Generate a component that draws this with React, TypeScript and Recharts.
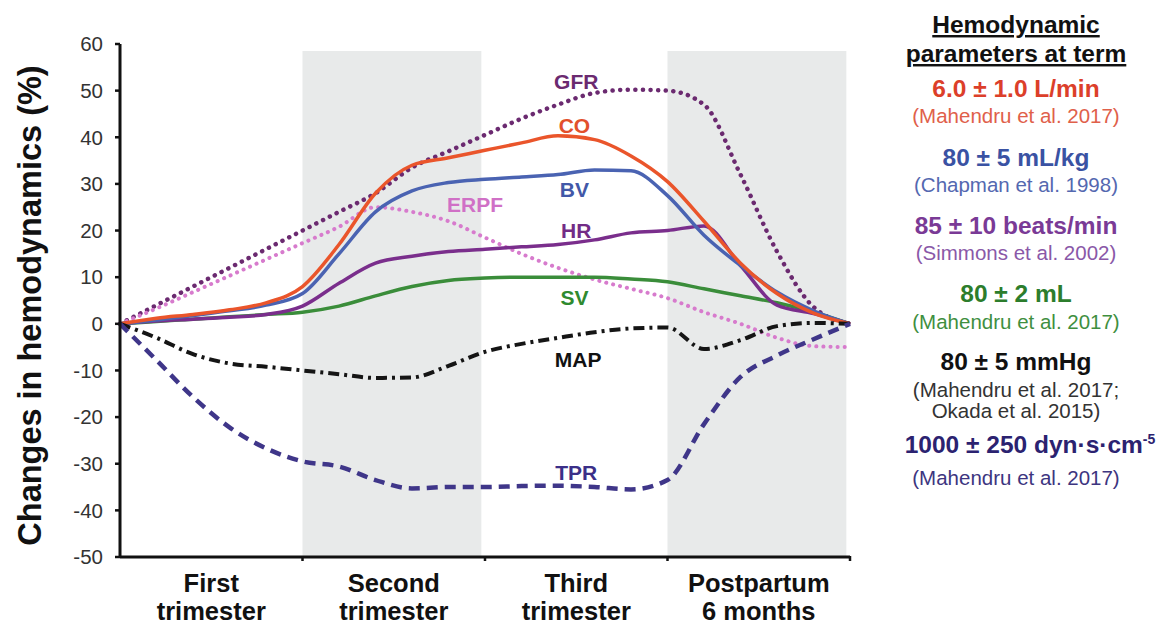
import React from "react";
import {
  LineChart,
  Line,
  XAxis,
  YAxis,
  ReferenceArea,
  ReferenceDot,
} from "recharts";

// time axis: 0 = conception, each unit = one trimester (last = postpartum 6 months)
const stages = [0, 0.2, 0.4, 0.6, 0.8, 1, 1.2, 1.4, 1.6, 1.8, 2, 2.2, 2.4, 2.6, 2.8, 3, 3.2, 3.4, 3.6, 3.8, 4];

const co = [0, 1.2, 2, 3, 4.5, 8, 17, 28, 34, 35.6, 37.2, 38.8, 40.3, 39.5, 36, 30.5, 22, 13, 6.5, 2.3, 0];
const bv = [0, 0.8, 1.8, 2.8, 4, 6.5, 15, 24, 28.5, 30.3, 31, 31.5, 32, 33, 32.8, 27.5, 19, 12.5, 6.8, 2.8, 0];
const hr = [0, 0.6, 1, 1.4, 2, 3.8, 8.7, 13, 14.5, 15.5, 16, 16.5, 17, 18, 19.5, 20, 21, 12.5, 4, 2.2, 0];
const sv = [0, 0.5, 1, 1.5, 2, 2.5, 3.8, 6, 8, 9.3, 9.8, 10, 10, 10, 9.6, 9, 7.5, 6, 4.5, 2.5, 0];
const gfr = [0, 4, 8, 12, 16, 20, 24, 28, 33.5, 37, 40.5, 44, 47, 49.5, 50.2, 50, 47, 32, 15.5, 3.6, 0];
const erpf = [0, 3.3, 6.8, 10.3, 13.8, 17.3, 20.8, 25, 24, 22, 18.5, 15, 12, 9.5, 7.5, 5.5, 2.5, 0, -3, -4.8, -5];
const map = [0, -3, -6.5, -8.5, -9.2, -10, -10.8, -11.6, -11.5, -9, -6, -4.3, -3, -1.8, -1, -0.8, -5.4, -3.5, -0.5, 0.2, 0];
const tpr = [0, -7.8, -15.7, -22.2, -26.7, -29.5, -30.6, -33.5, -35.3, -35, -35, -34.8, -34.7, -35, -35.5, -33.5, -21.5, -11.4, -6.8, -3.3, 0];

const stageNames = [
  ["First", "trimester"],
  ["Second", "trimester"],
  ["Third", "trimester"],
  ["Postpartum", "6 months"],
];
const shadedStages = [1, 3];
const yTicks = [-50, -40, -30, -20, -10, 0, 10, 20, 30, 40, 50, 60];

// in-plot series labels: [name, x, y, colour]
const seriesLabels: [string, number, number, string][] = [
  ["GFR", 2.5, 52, "#6b2a70"],
  ["CO", 2.49, 42.6, "#e2502c"],
  ["BV", 2.49, 28.9, "#4258a8"],
  ["ERPF", 1.945, 25.5, "#d070c6"],
  ["HR", 2.5, 20.1, "#732c86"],
  ["SV", 2.49, 5.7, "#2f8a2f"],
  ["MAP", 2.51, -7.7, "#111111"],
  ["TPR", 2.5, -31.8, "#3b2f88"],
];

// panel on the right: value line, citation lines, colours
const termValues = [
  "6.0 ± 1.0 L/min",
  "80 ± 5 mL/kg",
  "85 ± 10 beats/min",
  "80 ± 2 mL",
  "80 ± 5 mmHg",
  "1000 ± 250 dyn·s·cm",
];
const termRefs = [
  ["(Mahendru et al. 2017)"],
  ["(Chapman et al. 1998)"],
  ["(Simmons et al. 2002)"],
  ["(Mahendru et al. 2017)"],
  ["(Mahendru et al. 2017;", "Okada et al. 2015)"],
  ["(Mahendru et al. 2017)"],
];
const termColors = ["#dc3f2a", "#3a52a3", "#7a3a96", "#2c7d2c", "#111111", "#2b2270"];
const refColors = ["#e0604a", "#5468b0", "#8a58a8", "#3f8f3f", "#333333", "#3d3580"];
const valueBaselines = [97, 166, 234, 302, 370, 453];
const refBaselines = [[123], [192], [260], [329], [397, 418], [485]];

const data = stages.map((s, i) => ({
  s,
  co: co[i],
  bv: bv[i],
  hr: hr[i],
  sv: sv[i],
  gfr: gfr[i],
  erpf: erpf[i],
  map: map[i],
  tpr: tpr[i],
}));

const FONT = "Arial, 'Liberation Sans', Helvetica, sans-serif";

const StageTick = (props: any) => {
  const { x, y, payload } = props;
  const v = payload.value as number;
  if (Number.isInteger(v)) {
    if (v === 0) return null;
    return <line x1={x} x2={x} y1={y - 9} y2={y - 4} stroke="#111" strokeWidth={2.5} />;
  }
  const lines = stageNames[Math.floor(v)];
  return (
    <text x={x} y={y} textAnchor="middle" fontFamily={FONT} fontWeight="bold" fontSize={25.5} fill="#111">
      <tspan x={x} dy={27}>{lines[0]}</tspan>
      <tspan x={x} dy={28}>{lines[1]}</tspan>
    </text>
  );
};

const YTitle = (props: any) => {
  const vb = props.viewBox || { x: 0, y: 44, height: 513 };
  const cx = vb.x + 30;
  const cy = vb.y + vb.height / 2 + 5;
  return (
    <text
      x={cx}
      y={cy}
      transform={`rotate(-90 ${cx} ${cy})`}
      textAnchor="middle"
      dominantBaseline="central"
      fontFamily={FONT}
      fontWeight="bold"
      fontSize={32.5}
      fill="#111"
    >
      Changes in hemodynamics (%)
    </text>
  );
};

export default function App() {
  const panel: React.ReactNode[] = [];
  termValues.forEach((t, i) => {
    panel.push(
      <text key={`v${i}`} x={i === 5 ? 170 : 156} y={valueBaselines[i]} textAnchor="middle" fontFamily={FONT}
        fontWeight="bold" fontSize={24.5} fill={termColors[i]}>
        {t}
        {i === 5 && <tspan dy={-9} fontSize={14}>-5</tspan>}
      </text>
    );
    termRefs[i].forEach((r, j) => {
      panel.push(
        <text key={`r${i}-${j}`} x={156} y={refBaselines[i][j]} textAnchor="middle" fontFamily={FONT}
          fontSize={20.5} fill={refColors[i]}>
          {r}
        </text>
      );
    });
  });

  return (
    <div style={{ position: "absolute", left: 0, top: 0, width: 1170, height: 626, background: "#fff" }}>
      <LineChart
        width={1170}
        height={626}
        data={data}
        margin={{ top: 44, right: 320, bottom: 0, left: 0 }}
      >
        {shadedStages.map((s) => (
          <ReferenceArea key={s} x1={s} x2={s + 0.98} y1={-50} y2={58.5} fill="#e8eaea" fillOpacity={1} stroke="none" />
        ))}
        <XAxis
          dataKey="s"
          type="number"
          domain={[0, 4]}
          ticks={[0, 0.5, 1, 1.5, 2, 2.5, 3, 3.5, 4]}
          interval={0}
          height={69}
          axisLine={{ stroke: "#111", strokeWidth: 3 }}
          tickLine={false}
          tick={<StageTick />}
        />
        <YAxis
          type="number"
          domain={[-50, 60]}
          ticks={yTicks}
          interval={0}
          width={120}
          axisLine={{ stroke: "#111", strokeWidth: 3 }}
          tickLine={{ stroke: "#111", strokeWidth: 2.5 }}
          tickSize={5}
          tickMargin={12}
          tick={{ fontSize: 20.5, fill: "#333", fontFamily: FONT }}
          label={<YTitle />}
        />
        <Line type="monotone" dataKey="gfr" stroke="#6b2a70" strokeWidth={4.5} strokeDasharray="0.1 7.5" strokeLinecap="round" dot={false} isAnimationActive={false} />
        <Line type="monotone" dataKey="erpf" stroke="#d77bcd" strokeWidth={4} strokeDasharray="0.1 7" strokeLinecap="round" dot={false} isAnimationActive={false} />
        <Line type="monotone" dataKey="sv" stroke="#3a8d3a" strokeWidth={3.5} dot={false} isAnimationActive={false} />
        <Line type="monotone" dataKey="hr" stroke="#7a2e8c" strokeWidth={3.5} dot={false} isAnimationActive={false} />
        <Line type="monotone" dataKey="bv" stroke="#4a63b2" strokeWidth={3.5} dot={false} isAnimationActive={false} />
        <Line type="monotone" dataKey="co" stroke="#ea552b" strokeWidth={3.5} dot={false} isAnimationActive={false} />
        <Line type="monotone" dataKey="map" stroke="#151515" strokeWidth={4} strokeDasharray="11 5 3 5" dot={false} isAnimationActive={false} />
        <Line type="monotone" dataKey="tpr" stroke="#3f3689" strokeWidth={4.5} strokeDasharray="11 7" dot={false} isAnimationActive={false} />
        {seriesLabels.map(([name, x, y, color]) => (
          <ReferenceDot
            key={name}
            x={x}
            y={y}
            r={0}
            shape={(p: any) => (
              <text x={p.cx} y={p.cy} textAnchor="middle" dominantBaseline="central" fontFamily={FONT}
                fontWeight="bold" fontSize={21} fill={color}>
                {name}
              </text>
            )}
          />
        ))}
      </LineChart>
      <svg width={310} height={626} style={{ position: "absolute", left: 860, top: 0 }}>
        <text x={156} y={33} textAnchor="middle" fontFamily={FONT} fontWeight="bold" fontSize={24.5}
          fill="#111" textDecoration="underline">Hemodynamic</text>
        <text x={156} y={62} textAnchor="middle" fontFamily={FONT} fontWeight="bold" fontSize={24.5}
          fill="#111" textDecoration="underline">parameters at term</text>
        {panel}
      </svg>
    </div>
  );
}
